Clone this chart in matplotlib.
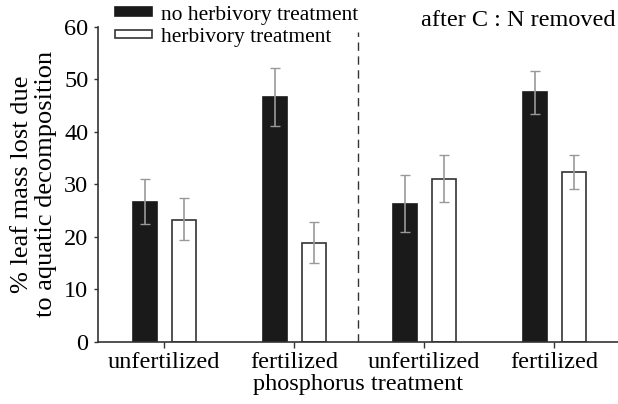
import numpy as np
import matplotlib
matplotlib.use('Agg')
import matplotlib.pyplot as plt

plt.rcParams['font.family'] = ['Liberation Serif', 'DejaVu Serif']

# data
groups = ['unfertilized', 'fertilized', 'unfertilized', 'fertilized']
no_herb = [26.7, 46.7, 26.3, 47.6]
no_herb_lo = [22.4, 41.2, 21.0, 43.4]
no_herb_hi = [31.1, 52.1, 31.8, 51.6]
herb = [23.3, 18.8, 31.0, 32.4]
herb_lo = [19.4, 15.0, 26.7, 29.1]
herb_hi = [27.5, 22.8, 35.6, 35.6]

x = np.arange(len(groups))
w = 0.185
off = 0.15

fig = plt.figure(figsize=(6.18, 4.04), dpi=100)
ax = fig.add_axes([0.1586, 0.1535, 0.8414, 0.78])

err1 = [np.array(no_herb) - np.array(no_herb_lo), np.array(no_herb_hi) - np.array(no_herb)]
err2 = [np.array(herb) - np.array(herb_lo), np.array(herb_hi) - np.array(herb)]

ax.bar(x - off, no_herb, w, color='#1a1a1a', edgecolor='#1a1a1a', lw=1.2,
       label='no herbivory treatment')
ax.bar(x + off, herb, w, color='white', edgecolor='#333333', lw=1.2,
       label='herbivory treatment')
ax.errorbar(x - off, no_herb, yerr=err1, fmt='none', ecolor='#999999', elinewidth=1.2, capsize=3.5)
ax.errorbar(x + off, herb, yerr=err2, fmt='none', ecolor='#999999', elinewidth=1.2, capsize=3.5)

ax.plot([1.49, 1.49], [0, 59], color='#333333', ls=(0, (6, 4)), lw=1)

ax.set_xlim(-0.508, 3.49)
ax.set_ylim(0, 60)
ax.set_xticks(x)
ax.set_xticklabels(groups, fontsize=17.5)
ax.set_yticks(range(0, 61, 10))
ax.tick_params(axis='y', labelsize=17.5, length=3, width=1, pad=4, color='#333333')
ax.tick_params(axis='x', length=4, width=1, pad=3, color='#333333')
for s in ['top', 'right']:
    ax.spines[s].set_visible(False)
for s in ['left', 'bottom']:
    ax.spines[s].set_color('#333333')
    ax.spines[s].set_linewidth(1.2)

ax.set_ylabel('% leaf mass lost due\nto aquatic decomposition', fontsize=19, labelpad=5, linespacing=1.1)
ax.set_xlabel('phosphorus treatment', fontsize=17.5, labelpad=1)

ax.legend(loc='upper left', bbox_to_anchor=(0.016, 1.095), frameon=False, fontsize=15.5,
          handlelength=1.7, handleheight=0.25, handletextpad=0.45, labelspacing=0.15, borderaxespad=0)
ax.text(0.995, 1.02, 'after C : N removed', transform=ax.transAxes, ha='right', va='center', fontsize=17.5)

fig.savefig('out.png', dpi=100)
